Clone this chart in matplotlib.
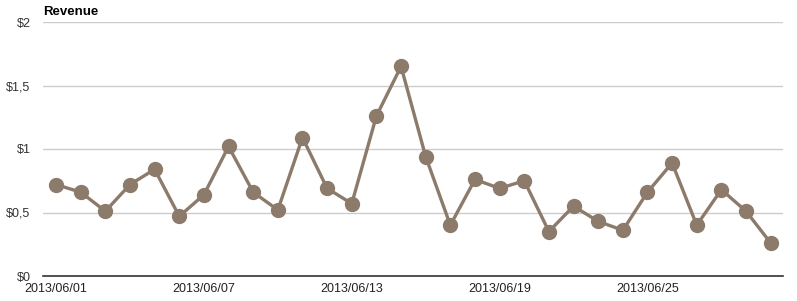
import matplotlib.pyplot as plt

# ---- Data ----
dates = ["2013/06/%02d" % d for d in range(1, 31)]
revenue = [0.72, 0.66, 0.51, 0.72, 0.84, 0.47, 0.64, 1.02, 0.66, 0.52,
           1.09, 0.69, 0.57, 1.26, 1.65, 0.94, 0.40, 0.76, 0.69, 0.75,
           0.35, 0.55, 0.43, 0.36, 0.66, 0.89, 0.40, 0.68, 0.51, 0.26]
tick_dates = ["2013/06/01", "2013/06/07", "2013/06/13", "2013/06/19", "2013/06/25"]
y_ticks = [0, 0.5, 1, 1.5, 2]
y_labels = ["$0", "$0,5", "$1", "$1,5", "$2"]

plt.rcParams["font.family"] = ["Liberation Sans", "DejaVu Sans"]

fig = plt.figure(figsize=(7.97, 3.01), dpi=100)
ax = fig.add_axes([43 / 797, 25 / 301, 740 / 797, 254 / 301])

x = list(range(len(dates)))
ax.plot(x, revenue, color="#8c7b6b", linewidth=2.4, marker="o",
        markersize=10, zorder=3)

ax.set_xlim(-0.53, 29.5)
ax.set_ylim(0, 2)
ax.set_yticks(y_ticks)
ax.set_yticklabels(y_labels, fontsize=9, color="#333333")
ax.set_xticks([dates.index(d) for d in tick_dates])
ax.set_xticklabels(tick_dates, fontsize=9, color="#222222")
ax.tick_params(axis="both", length=0)
ax.tick_params(axis="y", pad=9)
ax.tick_params(axis="x", pad=5)

ax.grid(axis="y", color="#cccccc", linewidth=1)
ax.set_axisbelow(True)
for side in ["top", "right", "left"]:
    ax.spines[side].set_visible(False)
ax.spines["bottom"].set_color("#333333")
ax.spines["bottom"].set_linewidth(1.2)
ax.spines["bottom"].set_zorder(4)

fig.text(43 / 797, 1 - 12 / 301, "Revenue", fontsize=9.5, fontweight="bold",
         va="center", ha="left")

fig.savefig("out.png", dpi=100)
